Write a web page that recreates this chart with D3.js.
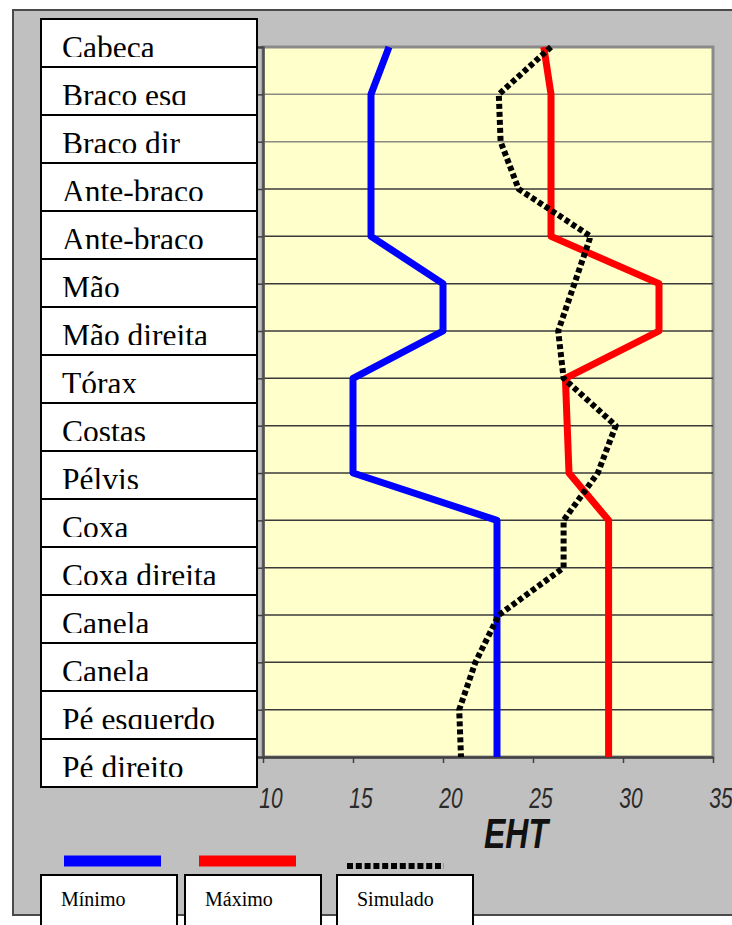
<!DOCTYPE html>
<html>
<head>
<meta charset="utf-8">
<script src="https://cdn.jsdelivr.net/npm/d3@7"></script>
<style>
  body { margin: 0; background: #fff; }
  svg { display: block; }
</style>
</head>
<body>
<div id="wrapper"></div>
<script>
// data
const categories = ["Cabeca","Braco esq","Braco dir","Ante-braco","Ante-braco","Mão","Mão direita","Tórax","Costas","Pélvis","Coxa","Coxa direita","Canela","Canela","Pé esquerdo","Pé direito"];
const minimo   = [17, 16, 16, 16, 16, 20, 20, 15, 15, 15, 23, 23, 23, 23, 23, 23];
const maximo   = [25.6, 26, 26, 26, 26, 32, 32, 26.8, 26.9, 27, 29.2, 29.2, 29.2, 29.2, 29.2, 29.2];
const simulado = [26, 23.1, 23.2, 24.2, 28.2, 27.3, 26.4, 26.7, 29.6, 28.6, 26.7, 26.7, 23.1, 21.8, 20.9, 21];
const xTicks = [10, 15, 20, 25, 30, 35];
const seriesNames = ["Mínimo", "Máximo", "Simulado"];
const axisTitle = "EHT";

function drawChart(){
    const width = 732, height = 925;
    const plot = {left: 263, right: 713, top: 47, bottom: 757};

    const svg = d3.select("#wrapper").append("svg")
        .attr("width", width)
        .attr("height", height);

    // outer grey panel
    svg.append("rect")
        .attr("x", 13).attr("y", 10)
        .attr("width", 760).attr("height", 905)
        .attr("fill", "#c0c0c0")
        .attr("stroke", "#4a4a4a")
        .attr("stroke-width", 2);

    // scales
    const xScale = d3.scaleLinear()
        .domain([10, 35])
        .range([plot.left, plot.right]);

    const idx = d3.range(categories.length);
    const yScale = d3.scalePoint()
        .domain(idx)
        .range([plot.top, plot.bottom]);

    const labelBand = d3.scaleBand()
        .domain(idx)
        .range([19, 787]);

    // plot area
    svg.append("rect")
        .attr("x", plot.left).attr("y", plot.top)
        .attr("width", plot.right - plot.left)
        .attr("height", plot.bottom - plot.top)
        .attr("fill", "#ffffcc")
        .attr("stroke", "#8a8a8a")
        .attr("stroke-width", 3);

    // horizontal grid
    svg.append("g").selectAll("line")
        .data(idx.slice(1, -1))
        .join("line")
        .attr("x1", plot.left).attr("x2", plot.right)
        .attr("y1", d => yScale(d)).attr("y2", d => yScale(d))
        .attr("stroke", d => d < 3 ? "#8a8a80" : "#3a3a3a")
        .attr("stroke-width", 1.5);

    // left axis with small ticks
    const yAxis = d3.axisLeft(yScale).tickSize(5).tickFormat("");
    svg.append("g")
        .attr("transform", `translate(${plot.left},0)`)
        .call(yAxis)
        .call(g => g.select(".domain").attr("stroke", "#505050").attr("stroke-width", 2.5))
        .call(g => g.selectAll(".tick line").attr("stroke", "#404040").attr("stroke-width", 1.5));

    // bottom axis
    const xAxis = d3.axisBottom(xScale).tickValues(xTicks).tickSize(6).tickSizeOuter(0).tickFormat("");
    svg.append("g")
        .attr("transform", `translate(0,${plot.bottom})`)
        .call(xAxis)
        .call(g => g.select(".domain").attr("stroke", "#404040").attr("stroke-width", 2.5))
        .call(g => g.selectAll(".tick line").attr("stroke", "#404040").attr("stroke-width", 1.5));

    // tick labels (stretched vertically like the picture)
    svg.append("g").selectAll("text")
        .data(xTicks)
        .join("text")
        .attr("transform", d => `translate(${xScale(d) + 8},${plot.bottom + 51}) scale(1,1.38)`)
        .attr("text-anchor", "middle")
        .attr("font-family", "'Liberation Sans', Arial, sans-serif")
        .attr("font-style", "italic")
        .attr("font-size", 21)
        .attr("fill", "#2a2a2a")
        .text(d => d);

    svg.append("text")
        .attr("transform", `translate(516,848) scale(1,1.3)`)
        .attr("text-anchor", "middle")
        .attr("font-family", "'Liberation Sans', Arial, sans-serif")
        .attr("font-style", "italic")
        .attr("font-weight", "bold")
        .attr("font-size", 32)
        .attr("fill", "#111")
        .text(axisTitle);

    // series lines
    const series = [
        {name: seriesNames[0], values: minimo, color: "#0000ff", dash: null},
        {name: seriesNames[1], values: maximo, color: "#ff0000", dash: null},
        {name: seriesNames[2], values: simulado, color: "#000000", dash: "5,3"}
    ];

    const line = d3.line()
        .x(d => xScale(d.v))
        .y(d => yScale(d.i));

    svg.append("g").selectAll("path")
        .data(series)
        .join("path")
        .attr("d", s => line(s.values.map((v, i) => ({v, i}))))
        .attr("fill", "none")
        .attr("stroke", s => s.color)
        .attr("stroke-width", s => s.dash ? 6 : 7)
        .attr("stroke-dasharray", s => s.dash)
        .attr("stroke-linejoin", "round");

    // category label boxes
    const clipTop = 38;
    const defs = svg.append("defs");
    defs.selectAll("clipPath")
        .data(idx)
        .join("clipPath")
        .attr("id", d => `clip-${d}`)
        .append("rect")
        .attr("x", 41).attr("width", 216)
        .attr("y", d => labelBand(d))
        .attr("height", clipTop);

    const boxes = svg.append("g").selectAll("g")
        .data(idx)
        .join("g");

    boxes.append("rect")
        .attr("x", 41).attr("width", 216)
        .attr("y", d => labelBand(d))
        .attr("height", labelBand.bandwidth())
        .attr("fill", "#fff")
        .attr("stroke", "#000")
        .attr("stroke-width", 2);

    boxes.append("text")
        .attr("clip-path", d => `url(#clip-${d})`)
        .attr("x", 62)
        .attr("y", d => labelBand(d) + clipTop + 1)
        .attr("font-family", "'Liberation Serif', 'Times New Roman', serif")
        .attr("font-size", 31.5)
        .attr("fill", "#000")
        .text(d => categories[d]);

    // legend
    const legendBoxX = [41, 185, 337];
    const legendSampleX = [64, 199, 347];
    const legend = svg.append("g").selectAll("g")
        .data(series)
        .join("g");

    legend.append("line")
        .attr("x1", (d, i) => legendSampleX[i])
        .attr("x2", (d, i) => legendSampleX[i] + 97)
        .attr("y1", (d, i) => d.dash ? 866 : 861)
        .attr("y2", (d, i) => d.dash ? 866 : 861)
        .attr("stroke", d => d.color)
        .attr("stroke-width", d => d.dash ? 6 : 11)
        .attr("stroke-dasharray", d => d.dash ? "6,2.8" : null);

    legend.append("rect")
        .attr("x", (d, i) => legendBoxX[i])
        .attr("y", 875)
        .attr("width", 136)
        .attr("height", 70)
        .attr("fill", "#fff")
        .attr("stroke", "#000")
        .attr("stroke-width", 2);

    legend.append("text")
        .attr("x", (d, i) => legendBoxX[i] + 20)
        .attr("y", 906)
        .attr("font-family", "'Liberation Serif', 'Times New Roman', serif")
        .attr("font-size", 20)
        .attr("fill", "#000")
        .text(d => d.name);
}
drawChart();
</script>
</body>
</html>
